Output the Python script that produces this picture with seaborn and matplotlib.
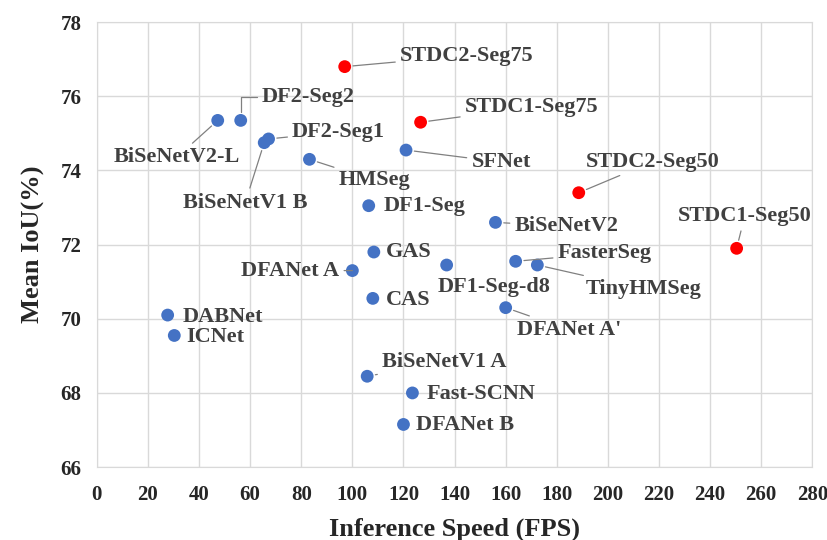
import numpy as np
import pandas as pd
import seaborn as sns
from matplotlib import pyplot as plt

# model names, speed (FPS), accuracy (mIoU %) and group
names = ['STDC2-Seg75', 'STDC1-Seg75', 'STDC2-Seg50', 'STDC1-Seg50',
         'BiSeNetV2-L', 'DF2-Seg2', 'DF2-Seg1', 'BiSeNetV1 B', 'HMSeg',
         'SFNet', 'DF1-Seg', 'BiSeNetV2', 'GAS', 'DFANet A', 'DF1-Seg-d8',
         'CAS', 'DABNet', 'ICNet', 'BiSeNetV1 A', 'Fast-SCNN', 'DFANet B',
         'FasterSeg', 'TinyHMSeg', "DFANet A'"]
fps = [97.0, 126.7, 188.6, 250.4,
       47.3, 56.3, 67.2, 65.5, 83.2,
       121.0, 106.4, 156.0, 108.4, 100.0, 136.9,
       108.0, 27.7, 30.3, 105.8, 123.5, 120.0,
       163.9, 172.4, 160.0]
miou = [76.8, 75.3, 73.4, 71.9,
        75.35, 75.35, 74.85, 74.75, 74.3,
        74.55, 73.05, 72.6, 71.8, 71.3, 71.45,
        70.55, 70.1, 69.55, 68.45, 68.0, 67.15,
        71.55, 71.45, 70.3]
group = ['STDC'] * 4 + ['other'] * 20

df = pd.DataFrame({'name': names, 'fps': fps, 'miou': miou, 'group': group})

# label placement: text centre offset in pixels, leader line or not
label_pos = {
    'STDC2-Seg75': (122, 11, True), 'STDC1-Seg75': (111, 15, True),
    'STDC2-Seg50': (74, 31, True), 'STDC1-Seg50': (8, 32, True),
    'BiSeNetV2-L': (-41, -37, True), 'DF2-Seg2': (67, 23, 'elbow'),
    'DF2-Seg1': (70, 7, True), 'BiSeNetV1 B': (-19, -60, True),
    'HMSeg': (65, -21, True), 'SFNet': (95, -12, True),
    'DF1-Seg': (56, 0, False), 'BiSeNetV2': (71, -4, True),
    'GAS': (35, 0, False), 'DFANet A': (-62, 0, True),
    'DF1-Seg-d8': (47, -22, False), 'CAS': (35, -2, False),
    'DABNet': (55, -2, False), 'ICNet': (41, -2, False),
    'BiSeNetV1 A': (77, 14, True), 'Fast-SCNN': (69, -1, False),
    'DFANet B': (62, -1, False), 'FasterSeg': (89, 8, True),
    'TinyHMSeg': (106, -24, True), "DFANet A'": (63, -22, True),
}

sns.set_style('white')
plt.rcParams['font.family'] = ['Liberation Serif', 'DejaVu Serif']
plt.rcParams['font.weight'] = 'bold'

fig, ax = plt.subplots(figsize=(8.28, 5.4), dpi=100)
fig.subplots_adjust(left=0.117, right=0.981, top=0.959, bottom=0.135)

sns.scatterplot(data=df, x='fps', y='miou', hue='group',
                palette={'STDC': '#ff0000', 'other': '#4472c4'},
                s=85, edgecolor='none', legend=False, ax=ax, zorder=3)

for n, x, y in zip(names, fps, miou):
    dx, dy, line = label_pos[n]
    props = None
    if line == 'elbow':
        props = dict(arrowstyle='-', color='#808080', lw=0.9, shrinkA=1, shrinkB=6,
                     connectionstyle='angle,angleA=0,angleB=90,rad=0', relpos=(0, 0.5))
    elif line:
        props = dict(arrowstyle='-', color='#808080', lw=0.9, shrinkA=1, shrinkB=6)
    ax.annotate(n, (x, y), xytext=(dx, dy), textcoords='offset pixels',
                ha='center', va='center', fontsize=16, fontweight='bold',
                color='#404040', arrowprops=props, zorder=4)

ax.set_xlim(0, 280)
ax.set_ylim(66, 78)
ax.set_xticks(np.arange(0, 281, 20))
ax.set_yticks(np.arange(66, 79, 2))
ax.grid(True, color='#d9d9d9', lw=1)
ax.set_axisbelow(True)
for sp in ax.spines.values():
    sp.set_color('#d9d9d9')
ax.tick_params(axis='both', length=0, labelsize=15, colors='#262626')
ax.tick_params(axis='x', pad=13)
ax.tick_params(axis='y', pad=11)
for t in ax.get_xticklabels() + ax.get_yticklabels():
    t.set_fontweight('bold')
ax.set_xlabel('Inference Speed (FPS)', fontsize=19, fontweight='bold', color='#262626', labelpad=9)
ax.set_ylabel('Mean IoU(%)', fontsize=19, fontweight='bold', color='#262626', labelpad=11)

plt.savefig('out.png', dpi=100)
